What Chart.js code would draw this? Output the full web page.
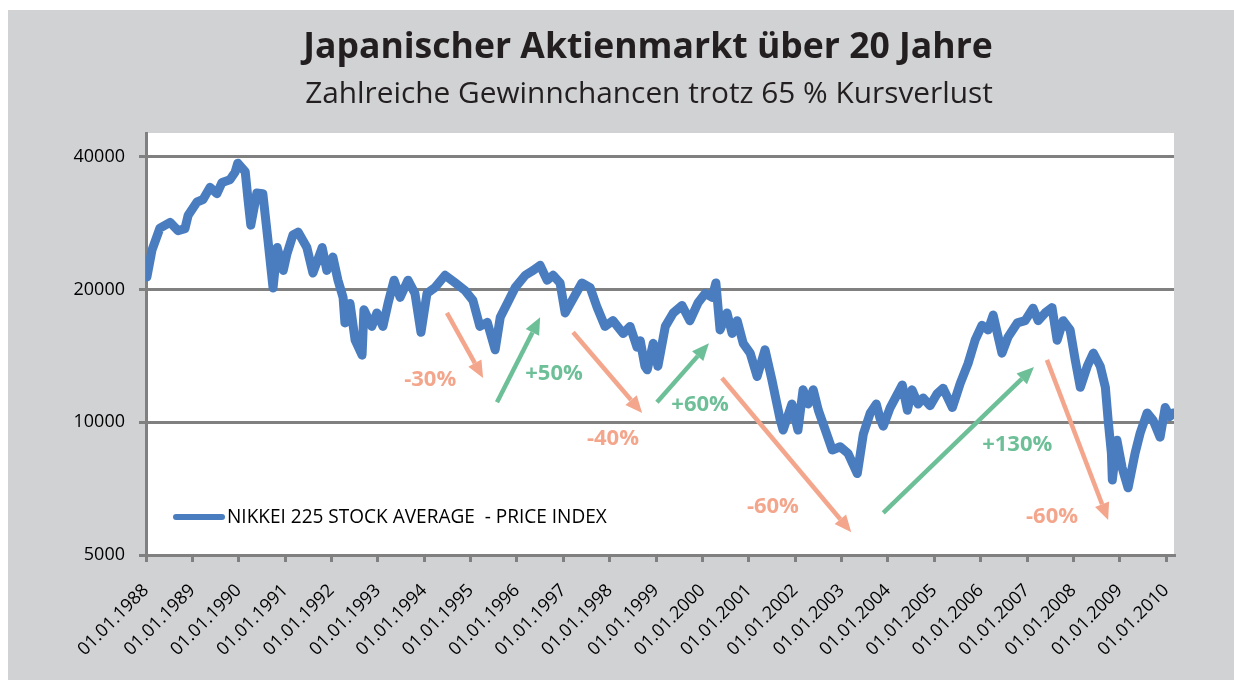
<!DOCTYPE html>
<html>
<head>
<meta charset="utf-8">
<script src="https://cdn.jsdelivr.net/npm/chart.js@4.4.1/dist/chart.umd.min.js"></script>
<style>
  html, body { margin: 0; padding: 0; background: #fff; }
  #wrap { width: 1234px; height: 680px; }
</style>
</head>
<body>
<div id="wrap"><canvas id="grafico"></canvas></div>
<script>
// Nikkei 225, gelesen aus der Vorlage (Jahr als Dezimalzahl, Indexwert)
var jahre = [
  1988.02, 1988.13, 1988.30, 1988.52, 1988.69, 1988.84, 1988.91, 1989.10, 1989.23, 1989.38,
  1989.53, 1989.64, 1989.81, 1989.92, 1989.98, 1990.14, 1990.20, 1990.26, 1990.39, 1990.52,
  1990.63, 1990.74, 1990.83, 1990.96, 1991.04, 1991.17, 1991.28, 1991.47, 1991.60, 1991.80,
  1991.90, 1992.03, 1992.14, 1992.25, 1992.29, 1992.40, 1992.51, 1992.66, 1992.70, 1992.87,
  1992.98, 1993.11, 1993.22, 1993.35, 1993.48, 1993.65, 1993.80, 1993.93, 1994.06, 1994.23,
  1994.45, 1994.67, 1994.88, 1995.05, 1995.20, 1995.36, 1995.53, 1995.64, 1995.79, 1995.96,
  1996.18, 1996.35, 1996.50, 1996.65, 1996.78, 1996.93, 1997.04, 1997.19, 1997.40, 1997.58,
  1997.73, 1997.90, 1998.07, 1998.29, 1998.44, 1998.59, 1998.66, 1998.76, 1998.81, 1998.94,
  1999.04, 1999.20, 1999.37, 1999.56, 1999.73, 1999.91, 2000.06, 2000.21, 2000.29, 2000.38,
  2000.53, 2000.64, 2000.75, 2000.88, 2001.03, 2001.18, 2001.35, 2001.50, 2001.68, 2001.74,
  2001.93, 2002.06, 2002.17, 2002.28, 2002.39, 2002.50, 2002.65, 2002.80, 2002.97, 2003.14,
  2003.34, 2003.47, 2003.62, 2003.75, 2003.83, 2003.90, 2004.05, 2004.31, 2004.42, 2004.52,
  2004.65, 2004.76, 2004.91, 2005.06, 2005.19, 2005.39, 2005.56, 2005.73, 2005.88, 2006.03,
  2006.16, 2006.27, 2006.46, 2006.59, 2006.79, 2006.96, 2007.13, 2007.24, 2007.39, 2007.54,
  2007.65, 2007.78, 2007.93, 2008.04, 2008.15, 2008.30, 2008.43, 2008.58, 2008.69, 2008.75,
  2008.82, 2008.84, 2008.94, 2009.05, 2009.18, 2009.33, 2009.44, 2009.59, 2009.72, 2009.87,
  2009.98, 2010.08, 2010.15
];
var nikkei = [
  21350, 24600, 27560, 28400, 27200, 27500, 29500, 31600, 32000, 34100,
  33000, 35000, 35500, 36900, 38700, 37000, 32000, 28000, 33100, 33000,
  25900, 20150, 24900, 22100, 24100, 26600, 27000, 24900, 21800, 24900,
  22100, 23700, 21000, 19200, 16800, 18600, 15350, 14200, 18000, 16500,
  17700, 16500, 18600, 21000, 19200, 21000, 19600, 16000, 19600, 20200,
  21550, 20700, 19900, 18900, 16500, 16850, 14600, 17300, 18600, 20200,
  21550, 22100, 22700, 21000, 21550, 20700, 17700, 18900, 20700, 20200,
  18200, 16500, 17000, 15900, 16500, 14800, 15300, 13400, 13150, 15100,
  13400, 16500, 17700, 18400, 17000, 18700, 19600, 19200, 20700, 16200,
  17700, 15900, 17000, 15100, 14350, 12700, 14600, 12450, 10100, 9600,
  11000, 9600, 11850, 11000, 11850, 10650, 9600, 8650, 8800, 8500,
  7650, 9400, 10500, 11000, 10200, 9800, 10800, 12150, 10650, 11850,
  11000, 11350, 10900, 11600, 11950, 10800, 12250, 13600, 15350, 16600,
  16200, 17500, 14350, 15600, 16800, 17000, 18150, 17000, 17700, 18200,
  15350, 17000, 16200, 13850, 12000, 13400, 14350, 13400, 12000, 10100,
  8500, 7400, 9100, 7900, 7100, 8500, 9450, 10500, 10100, 9250,
  10800, 10300, 10500
];
var achseJahre = [];
for (var j = 1988; j <= 2010; j++) achseJahre.push(j);
var achseWerte = [5000, 10000, 20000, 40000];

// Pfeile: Start (Jahr, Wert) -> Ende (Jahr, Wert)
var pfeilTexte = ['-30%', '+50%', '-40%', '+60%', '-60%', '+130%', '-60%'];
var pfeilTyp   = ['minus', 'plus', 'minus', 'plus', 'minus', 'plus', 'minus'];
var pfeilVon   = [[1994.49, 17700], [1995.57, 11100], [1997.21, 16000], [1999.02, 11100], [2000.42, 12600], [2003.90, 6230], [2007.43, 13850]];
var pfeilBis   = [[1995.27, 12600], [1996.50, 17300], [1998.70, 10500], [2000.14, 15100], [2003.21, 5630], [2007.15, 13350], [2008.75, 6000]];
var textPos    = [[1994.13, 12500], [1996.80, 12900], [1998.07, 9200], [1999.95, 10950], [2001.52, 6430], [2006.79, 8900], [2007.54, 6100]];

var titel = 'Japanischer Aktienmarkt über 20 Jahre';
var untertitel = 'Zahlreiche Gewinnchancen trotz 65 % Kursverlust';
var legendeText = 'NIKKEI 225 STOCK AVERAGE  - PRICE INDEX';

var blau = '#4a7dbf';
var farben = { minus: '#f4a68c', plus: '#6dbf97' };
var grau = '#808080';

// Schriftgröße so wählen, dass der Text eine Zielbreite hat
function passendeGroesse(ctx, text, gewicht, breite) {
  ctx.font = gewicht + ' 20px "Open Sans"';
  return 20 * breite / ctx.measureText(text).width;
}

function zeichnePfeil(ctx, x1, y1, x2, y2, farbe) {
  var w = Math.atan2(y2 - y1, x2 - x1);
  var lang = 17, halb = 7.5;
  var bx = x2 - lang * Math.cos(w), by = y2 - lang * Math.sin(w);
  ctx.strokeStyle = farbe;
  ctx.fillStyle = farbe;
  ctx.lineWidth = 4.5;
  ctx.lineCap = 'butt';
  ctx.beginPath();
  ctx.moveTo(x1, y1);
  ctx.lineTo(bx, by);
  ctx.stroke();
  ctx.beginPath();
  ctx.moveTo(x2, y2);
  ctx.lineTo(bx + halb * Math.sin(w), by - halb * Math.cos(w));
  ctx.lineTo(bx - halb * Math.sin(w), by + halb * Math.cos(w));
  ctx.closePath();
  ctx.fill();
}

var deko = {
  id: 'deko',
  beforeDraw: function(chart) {
    var ctx = chart.ctx, a = chart.chartArea;
    ctx.save();
    ctx.fillStyle = '#ffffff';
    ctx.fillRect(0, 0, chart.width, chart.height);
    ctx.fillStyle = '#d1d2d4';
    ctx.fillRect(8, 10, chart.width - 8, chart.height - 10);
    ctx.fillStyle = '#ffffff';
    ctx.fillRect(a.left, a.top, a.right - a.left, a.bottom - a.top);

    // Titel und Untertitel
    ctx.fillStyle = '#231f20';
    ctx.textAlign = 'center';
    ctx.textBaseline = 'middle';
    var g1 = passendeGroesse(ctx, titel, 'bold', 690);
    ctx.font = 'bold ' + g1 + 'px "Open Sans"';
    ctx.fillText(titel, 648, 48);
    var g2 = passendeGroesse(ctx, untertitel, 'normal', 688);
    ctx.font = 'normal ' + g2 + 'px "Open Sans"';
    ctx.fillText(untertitel, 649, 94);
    ctx.restore();
  },
  afterDatasetsDraw: function(chart) {
    var ctx = chart.ctx, a = chart.chartArea;
    var sx = chart.scales.x, sy = chart.scales.y;
    ctx.save();
    for (var i = 0; i < pfeilTexte.length; i++) {
      var f = farben[pfeilTyp[i]];
      zeichnePfeil(ctx,
        sx.getPixelForValue(pfeilVon[i][0]), sy.getPixelForValue(pfeilVon[i][1]),
        sx.getPixelForValue(pfeilBis[i][0]), sy.getPixelForValue(pfeilBis[i][1]), f);
      ctx.fillStyle = f;
      ctx.font = 'bold 22px "Open Sans"';
      ctx.textAlign = 'center';
      ctx.textBaseline = 'middle';
      ctx.fillText(pfeilTexte[i], sx.getPixelForValue(textPos[i][0]), sy.getPixelForValue(textPos[i][1]));
    }

    // Legende unten links im Diagramm
    ctx.strokeStyle = blau;
    ctx.lineWidth = 6;
    ctx.lineCap = 'round';
    ctx.beginPath();
    ctx.moveTo(a.left + 30, a.bottom - 38);
    ctx.lineTo(a.left + 76, a.bottom - 38);
    ctx.stroke();
    ctx.fillStyle = '#000000';
    var g3 = passendeGroesse(ctx, legendeText, 'normal', 380);
    ctx.font = 'normal ' + g3 + 'px "Open Sans"';
    ctx.textAlign = 'left';
    ctx.textBaseline = 'middle';
    ctx.fillText(legendeText, a.left + 81, a.bottom - 37);
    ctx.restore();
  }
};

var punkte = jahre.map(function(j, i) { return { x: j, y: nikkei[i] }; });

var ctx1 = document.getElementById('grafico').getContext('2d');
var myChart = new Chart(ctx1, {
  type: 'line',
  data: {
    datasets: [{
      label: legendeText,
      data: punkte,
      borderColor: blau,
      backgroundColor: blau,
      borderWidth: 9,
      borderJoinStyle: 'round',
      borderCapStyle: 'round',
      pointRadius: 0,
      tension: 0
    }]
  },
  options: {
    responsive: true,
    maintainAspectRatio: false,
    animation: false,
    layout: { padding: { left: 10, right: 60, top: 133, bottom: 0 } },
    plugins: {
      legend: { display: false },
      title: { display: false },
      tooltip: { enabled: false }
    },
    scales: {
      x: {
        type: 'linear',
        min: 1988,
        max: 2010.17,
        afterBuildTicks: function(s) { s.ticks = achseJahre.map(function(v) { return { value: v }; }); },
        afterFit: function(s) { s.height = 125; },
        ticks: {
          color: '#000',
          font: { family: 'Open Sans', size: 18 },
          maxRotation: 45,
          minRotation: 45,
          padding: 18,
          callback: function(v) { return '01.01.' + v; }
        },
        grid: { drawOnChartArea: false, drawTicks: true, tickLength: 7, color: grau, lineWidth: 3 },
        border: { display: true, color: grau, width: 3 }
      },
      y: {
        type: 'logarithmic',
        min: 5000,
        max: 45300,
        afterBuildTicks: function(s) { s.ticks = achseWerte.map(function(v) { return { value: v }; }); },
        afterFit: function(s) { s.width = 136; },
        ticks: {
          color: '#000',
          font: { family: 'Open Sans', size: 18 },
          padding: 14,
          callback: function(v) { return String(v); }
        },
        grid: { color: grau, lineWidth: 3, tickLength: 7 },
        border: { display: true, color: grau, width: 3 }
      }
    }
  },
  plugins: [deko]
});
</script>
</body>
</html>
